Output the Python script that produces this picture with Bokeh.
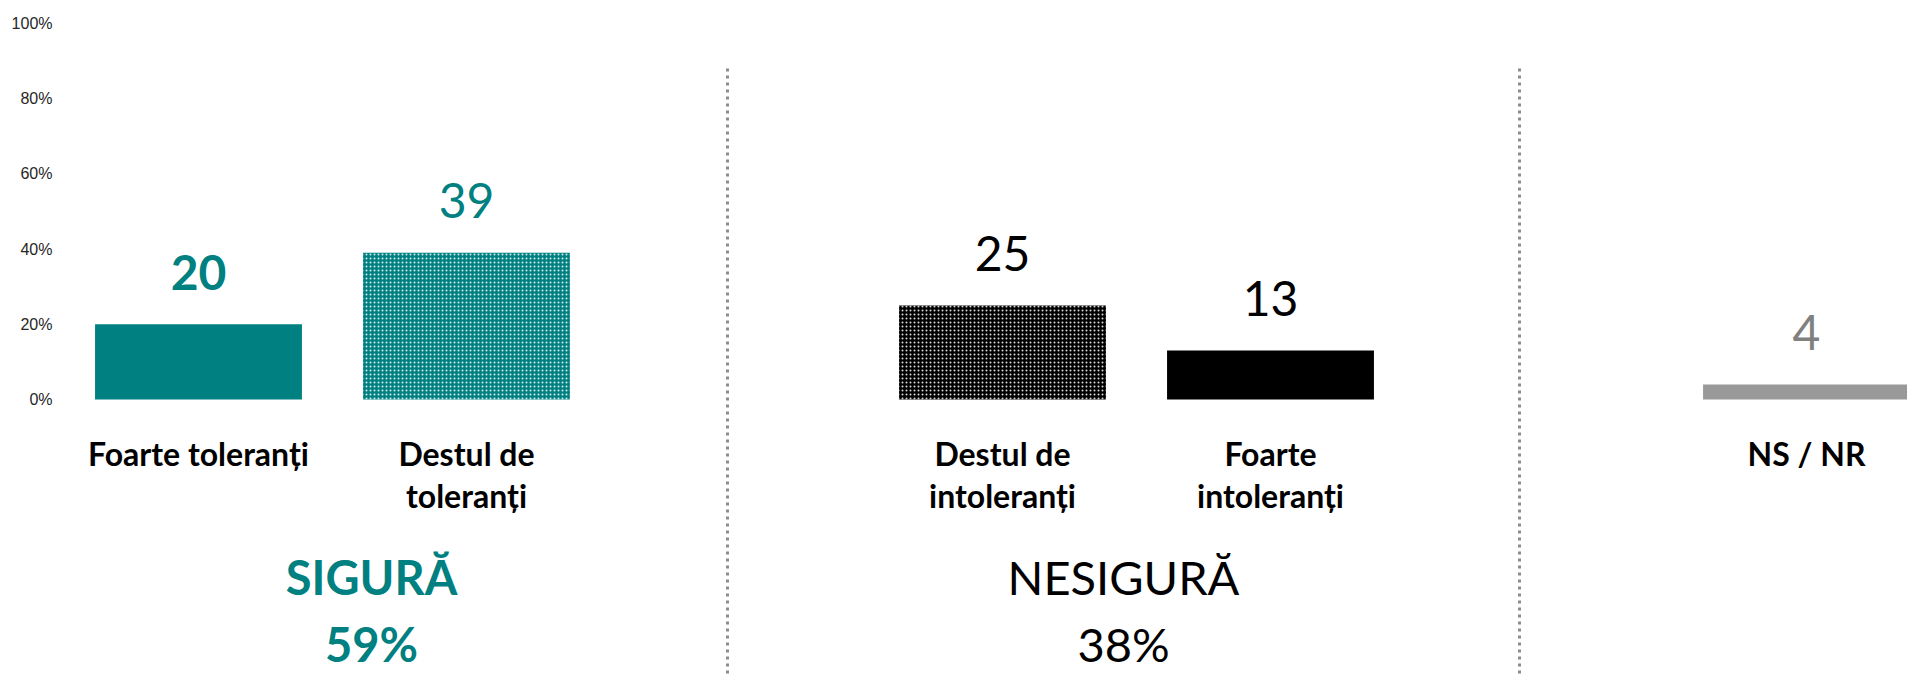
from bokeh.plotting import figure
from bokeh.models import ColumnDataSource, Range1d, FixedTicker, PrintfTickFormatter
from bokeh.core.properties import value
from bokeh.embed import file_html
from bokeh.resources import INLINE

# ---- data ----
categories = ["Foarte toleranți", "Destul de\ntoleranți", "Destul de\nintoleranți",
              "Foarte\nintoleranți", "NS / NR"]
values = [20, 39, 25, 13, 4]
groups = ["SIGURĂ", "SIGURĂ", "NESIGURĂ", "NESIGURĂ", "NS / NR"]
group_titles = ["SIGURĂ", "NESIGURĂ"]
y_ticks = [0, 20, 40, 60, 80, 100]

# ---- styles ----
TEAL = "#008080"
bar_fill = [TEAL, TEAL, "#000000", "#000000", "#999999"]
bar_hatch = [" ", "dot", "dot", " ", " "]
label_color = [TEAL, TEAL, "#000000", "#000000", "#808080"]
label_style = ["bold", "normal", "normal", "normal", "normal"]
group_color = [TEAL, "#000000"]
group_style = ["bold", "normal"]
group_xoff = [39, -13]
divider_xoff = [-7, -19]
FONT = "Lato"

# slot positions: a blank slot is inserted between groups
xs, gaps = [], []
slot = 0
for i, g in enumerate(groups):
    if i > 0 and g != groups[i - 1]:
        gaps.append(slot)
        slot += 1
    xs.append(slot)
    slot += 1

PX = 268.0  # px per slot
PY = 3.76   # px per percent
W, H = 1907, 677
LEFT = 64
ZERO = 399  # pixel row of the 0 line
y_top, y_bot = ZERO / PY, -(H - ZERO) / PY

p = figure(width=W, height=H, output_backend="svg", toolbar_location=None,
           x_range=Range1d(-0.5, -0.5 + (W - LEFT) / PX),
           y_range=Range1d(y_bot, y_top),
           x_axis_location=None,
           min_border_left=LEFT, min_border_right=0, min_border_top=0, min_border_bottom=0)
p.outline_line_color = None
p.xgrid.visible = False
p.ygrid.visible = False
p.background_fill_color = "white"
p.border_fill_color = "white"

ax = p.yaxis[0]
ax.ticker = FixedTicker(ticks=y_ticks)
ax.formatter = PrintfTickFormatter(format="%d%%")
ax.axis_line_color = None
ax.major_tick_line_color = None
ax.minor_tick_line_color = None
ax.major_tick_out = 0
ax.major_tick_in = 0
ax.major_label_standoff = 12
ax.major_label_text_font = "Liberation Sans"
ax.major_label_text_font_size = "16px"
ax.major_label_text_color = "#262626"

src = ColumnDataSource(dict(x=xs, top=values, fill=bar_fill, hatch=bar_hatch,
                            lc=label_color, fs=label_style,
                            lab=[str(v) for v in values]))

p.vbar(x="x", top="top", bottom=0, width=0.772, source=src, fill_color="fill",
       line_color=None, hatch_pattern="hatch", hatch_color="white",
       hatch_scale=4, hatch_weight=1, hatch_alpha=0.85)

p.text(x="x", y="top", text="lab", source=src, text_font=value(FONT),
       text_font_size="48px", text_font_style="fs", text_color="lc",
       text_align="center", text_baseline="alphabetic", y_offset=-52)

# category labels (wrapped lines)
lx, lt, lo = [], [], []
for x, c in zip(xs, categories):
    for j, line in enumerate(c.split("\n")):
        lx.append(x)
        lt.append(line)
        lo.append(54 + 42 * j)
p.text(x=lx, y=[0] * len(lx), text=lt, y_offset=lo, text_font=value(FONT),
       text_font_size="32px", text_font_style="bold", text_color="black",
       text_align="center", text_baseline="alphabetic")

# group labels
for k, gt in enumerate(group_titles):
    gx = [x for x, g in zip(xs, groups) if g == gt]
    gv = [v for v, g in zip(values, groups) if g == gt]
    cx = sum(gx) / len(gx)
    p.text(x=[cx, cx], y=[0, 0], text=[gt, f"{sum(gv)}%"], y_offset=[177, 244],
           x_offset=group_xoff[k], text_font=value(FONT), text_font_size="47px",
           text_font_style=group_style[k], text_color=group_color[k],
           text_align="center", text_baseline="alphabetic")

# dotted dividers between groups
dx = [g + off / PX for g, off in zip(gaps, divider_xoff)]
p.segment(x0=dx, x1=dx, y0=[88] * len(dx), y1=[y_bot - 5] * len(dx),
          line_color="#8c8c8c", line_width=3, line_dash="3 4")

open("out.html", "w").write(file_html(p, INLINE))
